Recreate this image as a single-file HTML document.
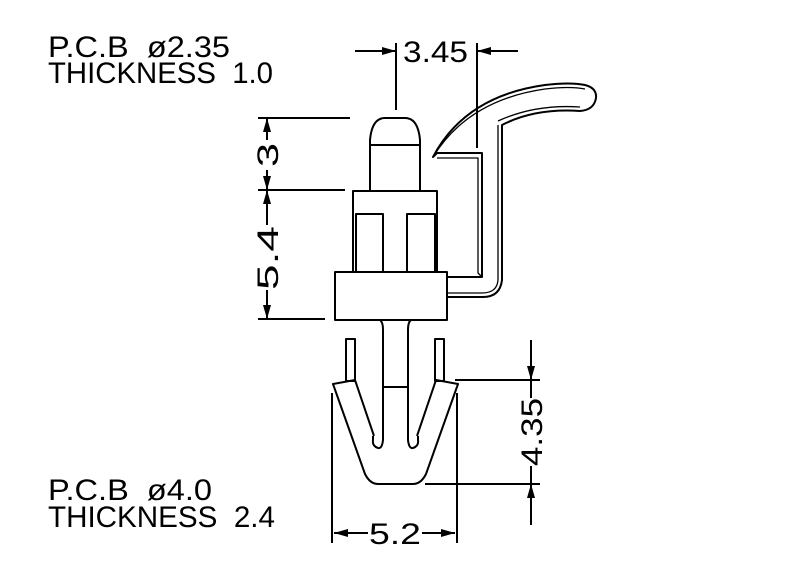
<!DOCTYPE html>
<html><head><style>
html,body{margin:0;padding:0;background:#fff;}
svg{display:block;}
text{font-family:"Liberation Sans",sans-serif;fill:#000;white-space:pre;}
</style></head><body>
<svg width="800" height="576" viewBox="0 0 800 576" xmlns="http://www.w3.org/2000/svg" xml:space="preserve">
<g fill="none" stroke="#000" stroke-width="2" stroke-linejoin="round">
<path d="M370,191 L370,140 Q372,118 385,118 L405,118 Q418,118 420,140 L420,191"/>
<line x1="370" y1="145" x2="420" y2="145"/>
<rect x="353" y="191" width="84" height="81"/>
<path d="M356,272 V214 H383 V272 M407,272 V214 H435 V272"/>
<rect x="335" y="272" width="112" height="48"/>
<path d="M447,277 H482 V153 H437 L433,157 Q465,96 545,85 Q570,82 585,85 Q597,88 596,98 Q594,110 580,111 Q535,108 502,125 V280 Q500,297 483,297 H447"/>
<path d="M437,158 H478 V273 L482,277" stroke-width="1.3"/>
<path d="M433,157 Q468,100 545,89 Q570,86 585,89" stroke-width="1.3"/>
<path d="M580,107 Q535,104 498,121" stroke-width="1.3"/>
<path d="M447,293 H482 Q497,293 498,280 V125" stroke-width="1.3"/>
<path d="M380,320 Q383,322 383,330 V440 Q382,449 378,448 Q372,446 373,440 V436 M411,320 Q408,322 408,330 V440 Q409,449 413,448 Q419,446 418,440 V436"/>
<line x1="383" y1="387" x2="408" y2="387"/>
<rect x="346" y="339" width="9" height="42"/>
<rect x="435" y="339" width="9" height="42"/>
<path d="M374,436 L355,380 L333,384 L365,474 Q370,484 378,484 L413,484 Q421,484 426,474 L458,384 L436,380 L417,436"/>
<line x1="396" y1="43" x2="396" y2="110"/>
<line x1="477" y1="43" x2="477" y2="148"/>
<line x1="355" y1="51" x2="396" y2="51"/>
<line x1="477" y1="51" x2="518" y2="51"/>
<line x1="258" y1="118" x2="350" y2="118"/>
<line x1="258" y1="190" x2="345" y2="190"/>
<line x1="258" y1="319" x2="325" y2="319"/>
<line x1="267" y1="118" x2="267" y2="140"/>
<line x1="267" y1="170" x2="267" y2="225"/>
<line x1="267" y1="290" x2="267" y2="319"/>
<line x1="332" y1="393" x2="332" y2="543"/>
<line x1="457" y1="393" x2="457" y2="543"/>
<line x1="334" y1="533" x2="368" y2="533"/>
<line x1="422" y1="533" x2="455" y2="533"/>
<line x1="455" y1="380" x2="540" y2="380"/>
<line x1="425" y1="484" x2="540" y2="484"/>
<line x1="531" y1="340" x2="531" y2="398"/>
<line x1="531" y1="466" x2="531" y2="525"/>
</g>
<g fill="#000">
<path d="M396,51 l-14,-4 v8z"/><path d="M477,51 l14,-4 v8z"/>
<path d="M267,118 l-4,14 h8z"/><path d="M267,190 l-4,-14 h8z"/>
<path d="M267,190 l-4,14 h8z"/><path d="M267,319 l-4,-14 h8z"/>
<path d="M334,533 l14,-4 v8z"/><path d="M455,533 l-14,-4 v8z"/>
<path d="M531,380 l-4,-14 h8z"/><path d="M531,484 l-4,14 h8z"/>
</g>
<g font-size="30">
<text x="403" y="62" textLength="65" lengthAdjust="spacingAndGlyphs">3.45</text>
<text x="369" y="544" textLength="52" lengthAdjust="spacingAndGlyphs">5.2</text>
<text transform="translate(278,155) rotate(-90)" x="-12" textLength="24" lengthAdjust="spacingAndGlyphs">3</text>
<text transform="translate(278,258) rotate(-90)" x="-32" textLength="64" lengthAdjust="spacingAndGlyphs">5.4</text>
<text transform="translate(542,432) rotate(-90)" x="-34" textLength="68" lengthAdjust="spacingAndGlyphs">4.35</text>
<text x="48" y="57" textLength="182" lengthAdjust="spacingAndGlyphs">P.C.B  ø2.35</text>
<text x="48" y="83" textLength="225" lengthAdjust="spacingAndGlyphs">THICKNESS  1.0</text>
<text x="48" y="500" textLength="164" lengthAdjust="spacingAndGlyphs">P.C.B  ø4.0</text>
<text x="48" y="527" textLength="227" lengthAdjust="spacingAndGlyphs">THICKNESS  2.4</text>
</g>
</svg>
</body></html>
